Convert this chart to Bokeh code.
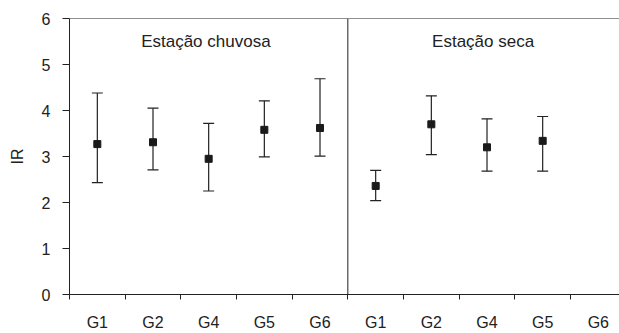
from bokeh.plotting import figure
from bokeh.models import (ColumnDataSource, Whisker, TeeHead, Span, Label,
                          FixedTicker)
from bokeh.embed import file_html
from bokeh.resources import INLINE

# ---- data ----
groups = ["G1", "G2", "G4", "G5", "G6", "G1", "G2", "G4", "G5", "G6"]
seasons = ["Estação chuvosa", "Estação seca"]
ir_mean = [3.27, 3.31, 2.95, 3.58, 3.62, 2.36, 3.70, 3.20, 3.34, None]
ir_upper = [4.38, 4.05, 3.72, 4.21, 4.69, 2.70, 4.32, 3.82, 3.87, None]
ir_lower = [2.43, 2.71, 2.25, 2.99, 3.01, 2.04, 3.04, 2.68, 2.68, None]
y_ticks = [0, 1, 2, 3, 4, 5, 6]

# positions from category index (centres of unit-wide slots)
idx = [i for i, m in enumerate(ir_mean) if m is not None]
src = ColumnDataSource(dict(
    x=[i + 0.5 for i in idx],
    mean=[ir_mean[i] for i in idx],
    upper=[ir_upper[i] for i in idx],
    lower=[ir_lower[i] for i in idx],
))

INK = "#222222"
FONT = "Liberation Sans"

p = figure(width=619, height=333, output_backend="svg", toolbar_location=None,
           x_range=(0, 9.88), y_range=(0, 6),
           min_border_left=69, min_border_right=0,
           min_border_top=18, min_border_bottom=34)
p.outline_line_color = None
p.grid.visible = False
p.background_fill_color = "white"
p.border_fill_color = "white"

# x axis: labels at slot centres, ticks at slot boundaries
xa = p.xaxis[0]
xa.ticker = FixedTicker(ticks=[i + 0.5 for i in range(len(groups))],
                        minor_ticks=list(range(len(groups))))
xa.major_label_overrides = {i + 0.5: g for i, g in enumerate(groups)}
xa.major_tick_out = 0
xa.major_tick_in = 0
xa.minor_tick_out = 5
xa.minor_tick_in = 0
xa.major_label_standoff = 14
xa.axis_line_color = INK
xa.minor_tick_line_color = INK
xa.major_label_text_font = FONT
xa.major_label_text_font_size = "16px"
xa.major_label_text_color = INK

ya = p.yaxis[0]
ya.ticker = FixedTicker(ticks=y_ticks, minor_ticks=[])
ya.major_tick_out = 7
ya.major_tick_in = 0
ya.major_label_standoff = 12
ya.axis_line_color = INK
ya.major_tick_line_color = INK
ya.major_label_text_font = FONT
ya.major_label_text_font_size = "16px"
ya.major_label_text_color = INK
ya.axis_label = "IR"
ya.axis_label_text_font = FONT
ya.axis_label_text_font_size = "16px"
ya.axis_label_text_font_style = "normal"
ya.axis_label_text_color = INK
ya.axis_label_standoff = 13

# top border and season divider
p.add_layout(Span(location=6, dimension="width", line_color=INK, line_width=1))
p.add_layout(Span(location=5, dimension="height", line_color=INK, line_width=1))

# error bars
w = Whisker(source=src, base="x", upper="upper", lower="lower",
            dimension="height", line_color=INK, line_width=1.2,
            upper_head=TeeHead(size=11, line_color=INK, line_width=1.2),
            lower_head=TeeHead(size=11, line_color=INK, line_width=1.2))
p.add_layout(w)

p.scatter("x", "mean", source=src, marker="square", size=7,
          fill_color="#1a1a1a", line_color="#1a1a1a")

# season labels
for xc, txt in [(2.45, seasons[0]), (7.43, seasons[1])]:
    p.add_layout(Label(x=xc, y=5.49, text=txt, text_align="center",
                       text_baseline="middle", text_font=FONT,
                       text_font_size="17px", text_color=INK))

open("out.html", "w").write(file_html(p, INLINE))
